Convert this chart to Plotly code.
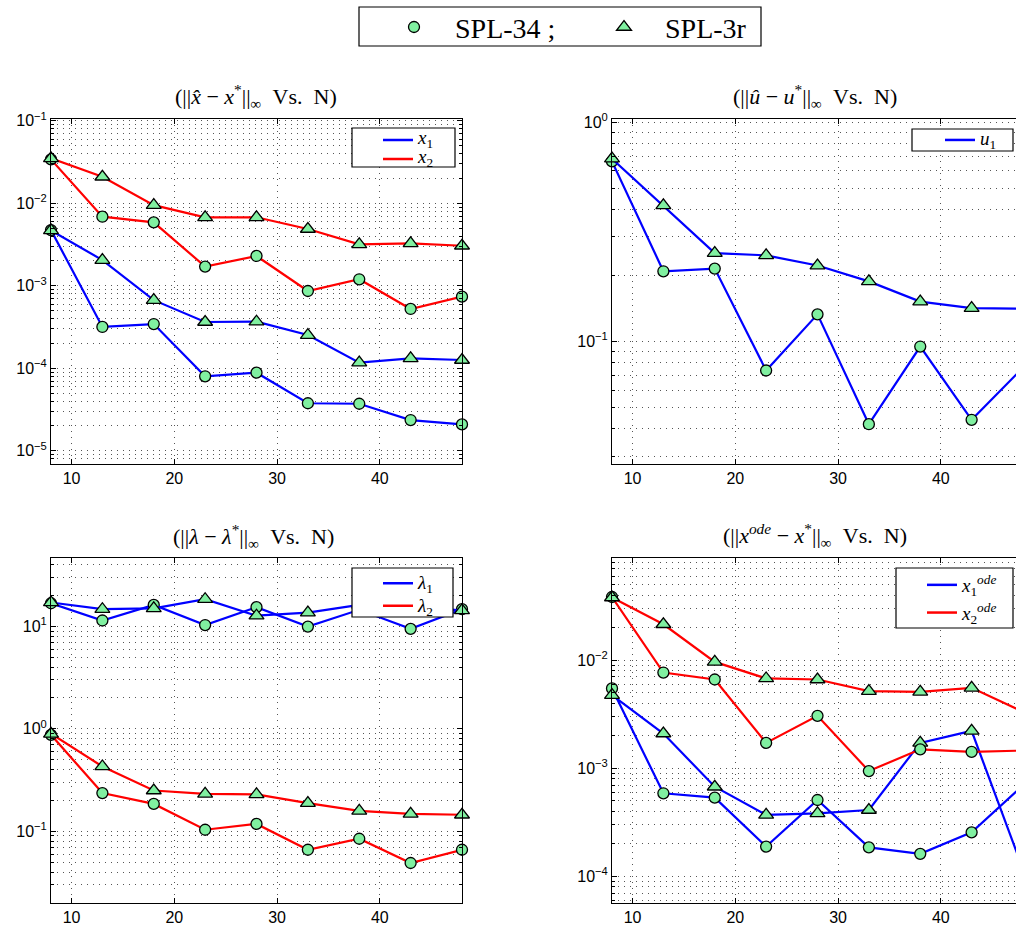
import plotly.graph_objects as go

W, H = 1016, 930

# ---------------- data ----------------
N = [8, 13, 18, 23, 28, 33, 38, 43, 48]

# top-left: ||x_hat - x*||_inf
x1_spl34 = [4.74e-3, 3.17e-4, 3.44e-4, 8.0e-5, 8.85e-5, 3.77e-5, 3.72e-5, 2.36e-5, 2.09e-5]
x1_spl3r = [4.70e-3, 2.05e-3, 6.7e-4, 3.64e-4, 3.67e-4, 2.53e-4, 1.17e-4, 1.32e-4, 1.26e-4]
x2_spl34 = [3.41e-2, 6.88e-3, 5.88e-3, 1.71e-3, 2.30e-3, 8.65e-4, 1.20e-3, 5.24e-4, 7.38e-4]
x2_spl3r = [3.51e-2, 2.10e-2, 9.5e-3, 6.77e-3, 6.77e-3, 4.88e-3, 3.18e-3, 3.27e-3, 3.06e-3]

# top-right: ||u_hat - u*||_inf
u1_spl34 = [0.662, 0.209, 0.215, 0.0738, 0.133, 0.042, 0.0949, 0.044, 0.076]
u1_spl3r = [0.681, 0.417, 0.253, 0.247, 0.222, 0.188, 0.152, 0.142, 0.141]

# bottom-left: ||lambda - lambda*||_inf
l1_spl34 = [16.8, 11.4, 16.2, 10.3, 15.4, 9.95, 14.5, 9.46, 14.7]
l1_spl3r = [17.1, 14.7, 15.0, 18.4, 12.7, 13.6, 16.2, 15.5, 14.3]
l2_spl34 = [0.874, 0.236, 0.185, 0.1035, 0.118, 0.066, 0.0845, 0.049, 0.066]
l2_spl3r = [0.894, 0.429, 0.250, 0.232, 0.229, 0.188, 0.158, 0.148, 0.145]

# bottom-right: ||x_ode - x*||_inf
x1o_spl34 = [5.48e-3, 5.88e-4, 5.36e-4, 1.89e-4, 5.10e-4, 1.86e-4, 1.62e-4, 2.56e-4, 6.98e-4]
x1o_spl3r = [4.75e-3, 2.10e-3, 6.76e-4, 3.71e-4, 3.84e-4, 4.12e-4, 1.72e-3, 2.22e-3, 1.17e-4]
x2o_spl34 = [3.84e-2, 7.69e-3, 6.63e-3, 1.72e-3, 3.06e-3, 9.44e-4, 1.50e-3, 1.42e-3, 1.46e-3]
x2o_spl3r = [3.80e-2, 2.15e-2, 9.64e-3, 6.78e-3, 6.63e-3, 5.18e-3, 5.10e-3, 5.55e-3, 3.34e-3]

x_ticks = [10, 20, 30, 40]
method_names = ["\u00a0\u00a0\u00a0SPL-34 ;", "\u00a0\u00a0\u00a0SPL-3r"]

# ---------------- style ----------------
GREEN = "#80F0A0"
BLUE = "#0000FF"
RED = "#FF0000"
GRID_C = "#555555"
GRID_D = "1px,5px"
TICKFONT = dict(family="Liberation Sans, Arial, sans-serif", size=16, color="black")
SERIF = "Liberation Serif, DejaVu Serif, serif"


def px(x):
    return x / W


def py(y):
    return 1 - y / H


def big(t, s):
    return '<span style="font-size:%dpx">%s</span>' % (s, t)


fig = go.Figure()

LEFT = (51, 462)
RIGHT = (612, 1016)
TOP = (119, 464)
BOT = (558, 903)
PX_PER_UNIT = (LEFT[1] - LEFT[0]) / 40.0
right_xmax = 8 + (RIGHT[1] - RIGHT[0]) / PX_PER_UNIT


def minor_vals(e0, e1):
    return [m * 10.0 ** e for e in range(e0, e1) for m in range(2, 10)]


def ytick(e):
    return "10<sup>" + ("\u2212" if e < 0 else "") + str(abs(e)) + "</sup>"


def xaxis_cfg(dom, xmax, anchor):
    return dict(domain=[px(dom[0]), px(dom[1])], range=[8, xmax], anchor=anchor,
                tickvals=x_ticks, ticks="inside", ticklen=5, tickcolor="black",
                showline=True, linecolor="black", linewidth=1, mirror="ticks",
                showgrid=True, gridcolor=GRID_C, griddash=GRID_D, gridwidth=1,
                zeroline=False, tickfont=TICKFONT, automargin=False)


def yaxis_cfg(dom, lo, hi, exps, anchor, mirror):
    return dict(domain=[py(dom[1]), py(dom[0])], type="log", range=[lo, hi], anchor=anchor,
                tickvals=[10.0 ** e for e in exps], ticktext=[ytick(e) for e in exps],
                ticks="inside", ticklen=5, tickcolor="black",
                showline=True, linecolor="black", linewidth=1, mirror=mirror,
                showgrid=True, gridcolor=GRID_C, griddash=GRID_D, gridwidth=1,
                zeroline=False, tickfont=TICKFONT, automargin=False,
                minor=dict(tickvals=minor_vals(min(exps) - 1, max(exps) + 1), ticks="inside",
                           ticklen=3, tickcolor="black", showgrid=True,
                           gridcolor=GRID_C, griddash=GRID_D, gridwidth=1))


fig.update_layout(
    xaxis=xaxis_cfg(LEFT, 48, "y"),
    yaxis=yaxis_cfg(TOP, -5.16, -0.978, [-5, -4, -3, -2, -1], "x", "allticks"),
    xaxis2=xaxis_cfg(RIGHT, right_xmax, "y2"),
    yaxis2=yaxis_cfg(TOP, -1.558, 0.014, [-1, 0], "x2", False),
    xaxis3=xaxis_cfg(LEFT, 48, "y3"),
    yaxis3=yaxis_cfg(BOT, -1.70, 1.667, [-1, 0, 1], "x3", "allticks"),
    xaxis4=xaxis_cfg(RIGHT, right_xmax, "y4"),
    yaxis4=yaxis_cfg(BOT, -4.245, -1.055, [-4, -3, -2], "x4", False),
)

panels = [
    ("x", "y", "legend2", [(big("<i>x</i><sub>1</sub>", 19), BLUE, x1_spl34, x1_spl3r),
                           (big("<i>x</i><sub>2</sub>", 19), RED, x2_spl34, x2_spl3r)]),
    ("x2", "y2", "legend3", [(big("<i>u</i><sub>1</sub>", 19), BLUE, u1_spl34, u1_spl3r)]),
    ("x3", "y3", "legend4", [(big("<i>\u03bb</i><sub>1</sub>", 19), BLUE, l1_spl34, l1_spl3r),
                             (big("<i>\u03bb</i><sub>2</sub>", 19), RED, l2_spl34, l2_spl3r)]),
    ("x4", "y4", "legend5", [(big("<i>x</i><sub>1</sub><sup><i>ode</i></sup>", 19), BLUE, x1o_spl34, x1o_spl3r),
                             (big("<i>x</i><sub>2</sub><sup><i>ode</i></sup>", 19), RED, x2o_spl34, x2o_spl3r)]),
]

for xa, ya, leg, series in panels:
    for name, color, s34, s3r in series:
        fig.add_trace(go.Scatter(x=N, y=s34, xaxis=xa, yaxis=ya, mode="lines+markers",
                                 line=dict(color=color, width=2.2), cliponaxis=False,
                                 marker=dict(symbol="circle", size=11, color=GREEN,
                                             line=dict(color="black", width=1.3)),
                                 showlegend=False))
        fig.add_trace(go.Scatter(x=N, y=s3r, xaxis=xa, yaxis=ya, mode="lines+markers",
                                 line=dict(color=color, width=2.2), cliponaxis=False,
                                 marker=dict(symbol="triangle-up", size=13, color=GREEN,
                                             line=dict(color="black", width=1.3)),
                                 showlegend=False))
    for name, color, s34, s3r in series:
        fig.add_trace(go.Scatter(x=[None], y=[None], xaxis=xa, yaxis=ya, mode="lines",
                                 line=dict(color=color, width=2.5), name=name,
                                 legend=leg, showlegend=True))

# top legend (markers only)
for nm, sym, sz in zip(method_names, ["circle", "triangle-up"], [11, 13]):
    fig.add_trace(go.Scatter(x=[None], y=[None], mode="markers", name=nm, legend="legend",
                             marker=dict(symbol=sym, size=sz, color=GREEN,
                                         line=dict(color="black", width=1.3))))

# legend boxes
boxes = [(359, 7, 761, 46), (352, 128, 455, 167), (912, 129, 1013, 151),
         (352, 568, 453, 617), (896, 568, 1013, 628)]
for x0, y0, x1, y1 in boxes:
    fig.add_shape(type="rect", xref="paper", yref="paper", x0=px(x0), x1=px(x1),
                  y0=py(y1), y1=py(y0), fillcolor="white", line=dict(color="black", width=1.2),
                  layer="above")

leg_common = dict(bgcolor="rgba(0,0,0,0)", borderwidth=0, xanchor="left", yanchor="top")
fig.update_layout(
    legend=dict(orientation="h", x=px(394), y=py(2.3), entrywidth=165, entrywidthmode="pixels",
                font=dict(family=SERIF, size=28, color="black"), **leg_common),
    legend2=dict(x=px(378), y=py(125.5), font=dict(family=SERIF, size=11, color="black"),
                 **leg_common),
    legend3=dict(x=px(940), y=py(125), font=dict(family=SERIF, size=13, color="black"),
                 **leg_common),
    legend4=dict(x=px(378), y=py(567), font=dict(family=SERIF, size=15, color="black"),
                 **leg_common),
    legend5=dict(x=px(922), y=py(566), font=dict(family=SERIF, size=19, color="black"),
                 **leg_common),
)

NB = "\u00a0"
titles = [
    (256, 97, "(||<i>x\u0302</i> \u2212 <i>x</i><sup>*</sup>||<sub>\u221e</sub>" + NB * 2 + "Vs." + NB * 2 + "N)"),
    (815, 97, "(||<i>u\u0302</i> \u2212 <i>u</i><sup>*</sup>||<sub>\u221e</sub>" + NB * 2 + "Vs." + NB * 2 + "N)"),
    (253, 536, "(||<i>\u03bb</i> \u2212 <i>\u03bb</i><sup>*</sup>||<sub>\u221e</sub>" + NB * 2 + "Vs." + NB * 2 + "N)"),
    (815, 535, "(||<i>x</i><sup><i>ode</i></sup> \u2212 <i>x</i><sup>*</sup>||<sub>\u221e</sub>" + NB * 2 + "Vs." + NB * 2 + "N)"),
]
for tx, ty, t in titles:
    fig.add_annotation(x=px(tx), y=py(ty), xref="paper", yref="paper", text=t, showarrow=False,
                       xanchor="center", yanchor="middle",
                       font=dict(family=SERIF, size=22, color="black"))

fig.update_layout(width=W, height=H, autosize=False,
                  margin=dict(l=0, r=0, t=0, b=0, autoexpand=False),
                  paper_bgcolor="white", plot_bgcolor="white", showlegend=True)

fig.write_html("out.html")
